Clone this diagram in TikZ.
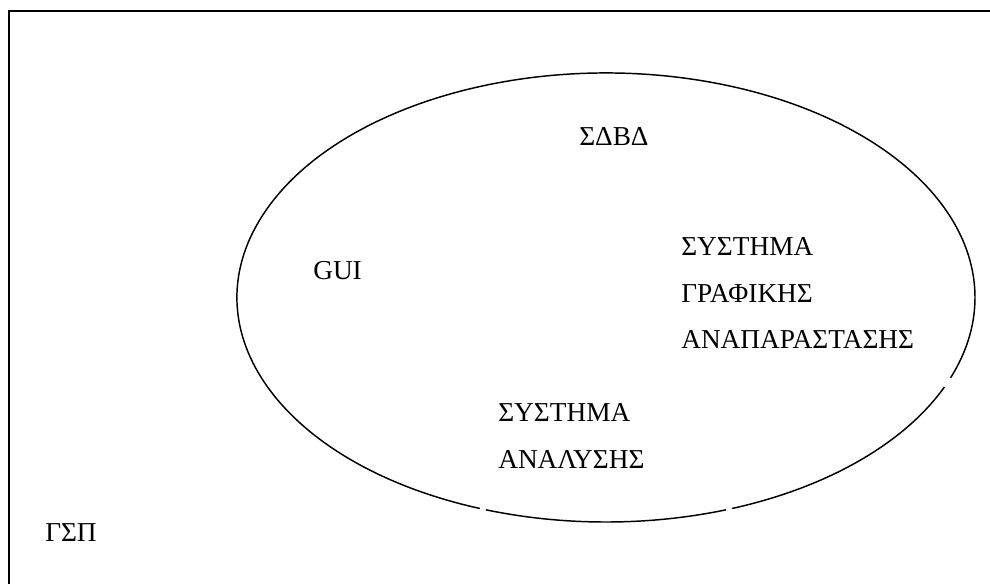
\documentclass[tikz,border=0pt]{standalone}
\usepackage{fontspec}
\setmainfont{Liberation Serif}
\begin{document}
\begin{tikzpicture}[x=0.75pt,y=-0.75pt,
  lbl/.style={anchor=base west,inner sep=0pt,font=\fontsize{20.5}{24}\selectfont},
  ring/.style={line width=1.1pt},
  frame/.style={line width=1.5pt}]
\useasboundingbox (0,0) rectangle (990,583);
% open frame: only the top and left sides fall inside the page
\begin{scope}
\clip (0,0) rectangle (990,583);
\draw[frame] (9,600) -- (9,11) -- (1000,11);
\end{scope}
% ellipse, drawn as arcs with small breaks
\coordinate (c) at (606,297.5);
\draw[ring] (c) ++(23.5:369 and 224.5) arc[start angle=23.5,end angle=70,x radius=369,y radius=224.5];
\draw[ring] (c) ++(71:369 and 224.5) arc[start angle=71,end angle=109,x radius=369,y radius=224.5];
\draw[ring] (c) ++(110:369 and 224.5) arc[start angle=110,end angle=381,x radius=369,y radius=224.5];
% labels
\node[lbl] (sdbd) at (579,145) {ΣΔΒΔ};
\node[lbl] (gui) at (313,279) {GUI};
\node[lbl] (sg1) at (681,255) {ΣΥΣΤΗΜΑ};
\node[lbl] (sg2) at (681,302) {ΓΡΑΦΙΚΗΣ};
\node[lbl] (sg3) at (681,348) {ΑΝΑΠΑΡΑΣΤΑΣΗΣ};
\node[lbl] (sa1) at (498,421) {ΣΥΣΤΗΜΑ};
\node[lbl] (sa2) at (498,468) {ΑΝΑΛΥΣΗΣ};
\node[lbl] (gsp) at (45,541) {ΓΣΠ};
\end{tikzpicture}
\end{document}
